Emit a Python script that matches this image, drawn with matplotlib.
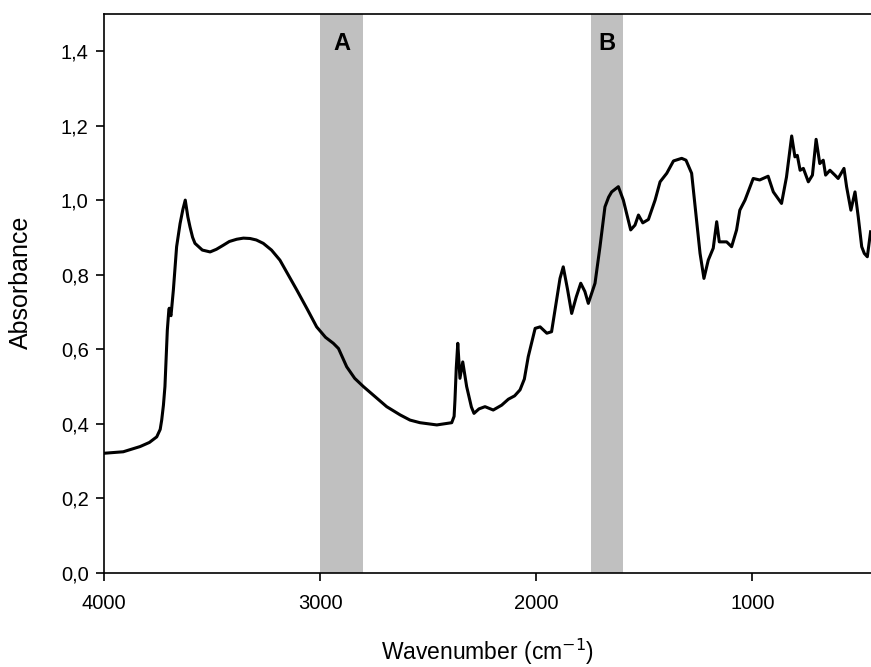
import numpy as np
import matplotlib
matplotlib.use("Agg")
import matplotlib.pyplot as plt
from matplotlib.ticker import FuncFormatter

plt.rcParams['font.family'] = ['Liberation Sans', 'DejaVu Sans']

# spectrum (wavenumber in cm-1, absorbance)
wavenumber = [4000, 3911, 3833, 3790, 3756, 3740, 3733, 3725, 3718, 3712, 3707, 3700, 3698,
              3694, 3690, 3685, 3679, 3664, 3648, 3635, 3624, 3612, 3602, 3590, 3579, 3545,
              3509, 3480, 3448, 3420, 3386, 3355, 3324, 3295, 3263, 3225, 3186, 3150, 3108,
              3060, 3016, 2975, 2939, 2915, 2877, 2840, 2800, 2754, 2692, 2630, 2584, 2538,
              2460, 2391, 2380, 2376, 2370, 2363, 2353, 2340, 2322, 2300, 2288, 2265, 2237,
              2199, 2160, 2129, 2100, 2075, 2055, 2037, 2020, 2005, 1982, 1951, 1929, 1906,
              1890, 1875, 1855, 1836, 1815, 1794, 1775, 1759, 1728, 1705, 1682, 1665, 1651,
              1620, 1597, 1563, 1543, 1527, 1507, 1481, 1450, 1427, 1396, 1365, 1327, 1307,
              1281, 1258, 1242, 1224, 1204, 1181, 1165, 1153, 1119, 1096, 1073, 1058, 1034,
              996, 966, 927, 903, 865, 842, 818, 803, 792, 779, 764, 741, 722, 705, 688, 672,
              661, 641, 618, 603, 576, 564, 544, 525, 510, 494, 482, 468, 453]
absorbance = [0.321, 0.325, 0.339, 0.350, 0.365, 0.385, 0.41, 0.45, 0.50, 0.58, 0.651, 0.705, 0.71,
              0.695, 0.69, 0.72, 0.759, 0.875, 0.937, 0.975, 1.0, 0.955, 0.928, 0.900, 0.884, 0.866,
              0.861, 0.868, 0.879, 0.889, 0.895, 0.898, 0.897, 0.893, 0.884, 0.866, 0.839, 0.802, 0.759,
              0.708, 0.66, 0.632, 0.616, 0.602, 0.553, 0.522, 0.50, 0.477, 0.446, 0.424, 0.41, 0.403,
              0.397, 0.403, 0.42, 0.464, 0.55, 0.616, 0.522, 0.566, 0.50, 0.445, 0.428, 0.44, 0.446,
              0.437, 0.45, 0.466, 0.475, 0.491, 0.52, 0.58, 0.62, 0.656, 0.66, 0.643, 0.647, 0.732,
              0.79, 0.821, 0.76, 0.696, 0.74, 0.777, 0.755, 0.723, 0.777, 0.875, 0.982, 1.008, 1.022,
              1.036, 1.0, 0.92, 0.933, 0.96, 0.939, 0.948, 1.0, 1.049, 1.072, 1.105, 1.112, 1.107,
              1.072, 0.946, 0.857, 0.79, 0.839, 0.871, 0.942, 0.888, 0.888, 0.875, 0.92, 0.973, 1.0,
              1.058, 1.054, 1.064, 1.022, 0.991, 1.062, 1.172, 1.116, 1.12, 1.08, 1.085, 1.049, 1.067,
              1.163, 1.098, 1.107, 1.067, 1.08, 1.067, 1.058, 1.085, 1.036, 0.973, 1.022, 0.955, 0.875,
              0.857, 0.848, 0.915]

# shaded regions
band_a = (3000, 2800)
band_b = (1745, 1600)
band_labels = ["A", "B"]

fig = plt.figure(figsize=(8.71, 6.67), dpi=100)
ax = fig.add_axes([0.1194, 0.141, 0.8806, 0.8385])

for (hi, lo), lab in zip([band_a, band_b], band_labels):
    ax.axvspan(lo, hi, color='#c0c0c0', lw=0, zorder=1)
    ax.text((hi + lo) / 2, 1.42, lab, ha='center', va='center',
            fontsize=17, fontweight='bold', zorder=3)

ax.plot(wavenumber, absorbance, color='black', lw=2.2, zorder=2,
        solid_joinstyle='round')

ax.set_xlim(4000, 451)
ax.set_ylim(0, 1.5)
ax.set_xticks([4000, 3000, 2000, 1000])
ax.set_yticks(np.arange(0, 1.41, 0.2))
ax.yaxis.set_major_formatter(FuncFormatter(lambda v, p: f"{v:.1f}".replace('.', ',')))
ax.tick_params(direction='out', length=6, width=1.2, labelsize=14.5)
ax.tick_params(axis='x', pad=9)
ax.tick_params(axis='y', pad=5)
for s in ax.spines.values():
    s.set_linewidth(1.2)
ax.spines['right'].set_visible(False)

ax.set_xlabel("Wavenumber (cm$^{-1}$)", fontsize=16.5, labelpad=17)
ax.set_ylabel("Absorbance", fontsize=18)
ax.yaxis.set_label_coords(-0.093, 0.52)

fig.savefig("out.png", dpi=100)
